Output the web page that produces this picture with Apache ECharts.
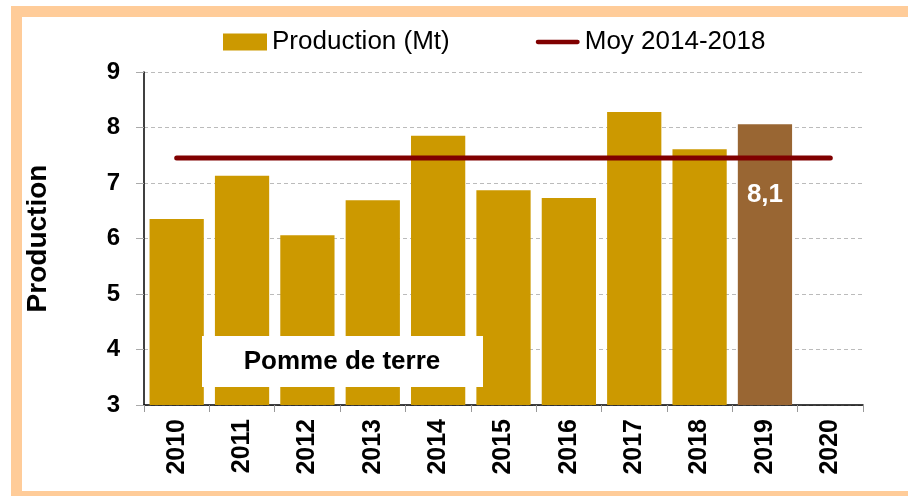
<!DOCTYPE html>
<html>
<head>
<meta charset="utf-8">
<script src="https://cdn.jsdelivr.net/npm/echarts@6/dist/echarts.min.js"></script>
<style>
  html, body { margin: 0; padding: 0; background: #fff; }
  #chart { width: 908px; height: 496px; }
</style>
</head>
<body>
<div id="chart"></div>
<script>
var years = ['2010', '2011', '2012', '2013', '2014', '2015', '2016', '2017', '2018', '2019', '2020']
var production = [6.35, 7.13, 6.06, 6.69, 7.85, 6.87, 6.73, 8.28, 7.61, 8.06, null]
var moyenne = [7.45, 7.45, 7.45, 7.45, 7.45, 7.45, 7.45, 7.45, 7.45, 7.45, 7.45]
var yTicks = [3, 4, 5, 6, 7, 8, 9]

var font = '"Liberation Sans", Arial, sans-serif'
var frameColor = '#FFCC99'

var chart = echarts.init(document.getElementById('chart'), null, {renderer: 'canvas'})

var barData = production.map(function (v, i) {
  if (years[i] === '2019') {
    return {
      value: v,
      itemStyle: {color: '#996633'},
      label: {
        show: true,
        position: 'insideTop',
        distance: 58,
        color: '#fff',
        fontWeight: 'bold',
        fontSize: 26,
        fontFamily: font,
        formatter: function (p) {
          return p.value.toFixed(1).replace('.', ',')
        }
      }
    }
  }
  return v
})

chart.setOption({
  animation: false,
  backgroundColor: '#fff',
  textStyle: {fontFamily: font},
  legend: {
    left: 218,
    top: 24,
    itemWidth: 44,
    itemHeight: 17,
    itemGap: 86,
    textStyle: {fontSize: 26, color: '#000', fontFamily: font},
    data: [
      {name: 'Production (Mt)', icon: 'rect'},
      {name: 'Moy 2014-2018', icon: 'path://M2,0 L48,0 A2.5,2.5 0 0 1 48,5 L2,5 A2.5,2.5 0 0 1 2,0 Z'}
    ]
  },
  grid: {
    left: 144,
    right: 45,
    top: 72,
    bottom: 91,
    containLabel: false
  },
  xAxis: {
    type: 'category',
    data: years,
    boundaryGap: true,
    axisLine: {lineStyle: {color: '#000', width: 1.5}},
    axisTick: {show: true, interval: 0, length: 7, lineStyle: {color: '#999'}},
    axisLabel: {
      interval: 0,
      rotate: 90,
      margin: 14,
      color: '#000',
      fontWeight: 'bold',
      fontSize: 25,
      fontFamily: font
    }
  },
  yAxis: {
    type: 'value',
    min: yTicks[0],
    max: yTicks[yTicks.length - 1],
    interval: 1,
    name: 'Production',
    nameLocation: 'middle',
    nameRotate: 90,
    nameGap: 92,
    nameTextStyle: {fontSize: 28, fontWeight: 'bold', color: '#000', fontFamily: font},
    axisLine: {show: true, lineStyle: {color: '#000', width: 1.5}},
    axisTick: {show: true, length: 8, lineStyle: {color: '#aaa'}},
    axisLabel: {
      margin: 24,
      color: '#000',
      fontWeight: 'bold',
      fontSize: 24,
      fontFamily: font
    },
    splitLine: {lineStyle: {color: '#bbb', type: [4, 3]}}
  },
  series: [{
    name: 'Production (Mt)',
    type: 'bar',
    data: barData,
    barCategoryGap: '17%',
    itemStyle: {color: '#CC9900'},
    z: 2
  }, {
    name: 'Moy 2014-2018',
    type: 'line',
    data: moyenne,
    symbol: 'none',
    itemStyle: {color: '#800000'},
    lineStyle: {color: '#800000', width: 5, cap: 'round'},
    z: 3
  }],
  graphic: [
    {type: 'rect', left: 11, top: 6, shape: {width: 897, height: 11}, style: {fill: frameColor}, silent: true},
    {type: 'rect', left: 11, top: 6, shape: {width: 11, height: 490}, style: {fill: frameColor}, silent: true},
    {type: 'rect', left: 11, top: 491, shape: {width: 897, height: 5}, style: {fill: frameColor}, silent: true},
    {
      type: 'rect',
      left: 202,
      top: 336,
      z: 100,
      shape: {width: 281, height: 51},
      style: {fill: '#fff'}
    },
    {
      type: 'text',
      x: 342,
      y: 362,
      z: 101,
      style: {
        text: 'Pomme de terre',
        fill: '#000',
        font: 'bold 26px ' + font,
        align: 'center',
        verticalAlign: 'middle'
      }
    }
  ]
})
</script>
</body>
</html>
